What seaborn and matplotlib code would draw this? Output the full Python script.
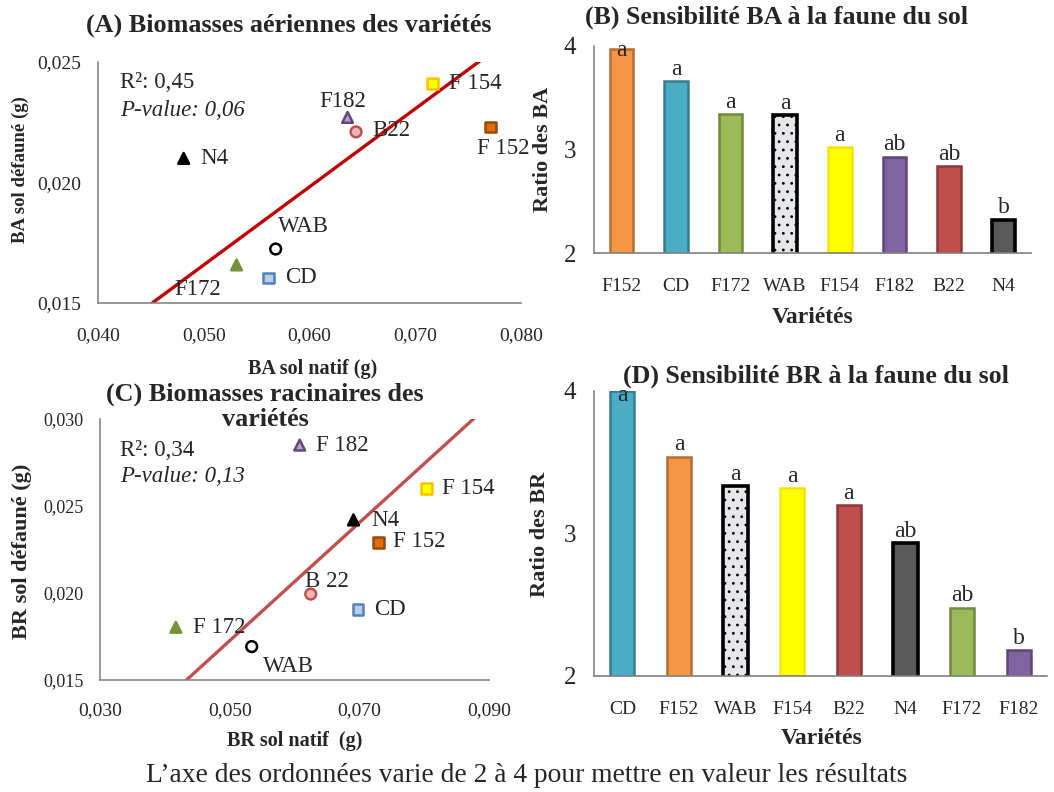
import numpy as np
import pandas as pd
import matplotlib
matplotlib.use("Agg")
import matplotlib.pyplot as plt
from matplotlib.ticker import FuncFormatter
import seaborn as sns

# données
varietes = ["F154", "F152", "F182", "B22", "N4", "WAB", "F172", "CD"]
ba_natif = [0.0716, 0.0771, 0.0636, 0.0644, 0.0481, 0.0568, 0.0531, 0.0561]
ba_defaune = [0.0241, 0.0223, 0.0227, 0.0221, 0.0210, 0.01724, 0.01658, 0.01604]
br_natif = [0.0804, 0.0729, 0.0608, 0.0625, 0.0691, 0.0534, 0.0417, 0.0698]
br_defaune = [0.0260, 0.02291, 0.0285, 0.01994, 0.0242, 0.01692, 0.01803, 0.01906]
labels_A = ["F 154", "F 152", "F182", "B22", "N4", "WAB", "F172", "CD"]
labels_C = ["F 154", "F 152", "F 182", "B 22", "N4", "WAB", "F 172", "CD"]

ordre_B = ["F152", "CD", "F172", "WAB", "F154", "F182", "B22", "N4"]
ratio_BA = [3.975, 3.66, 3.34, 3.33, 3.02, 2.93, 2.84, 2.32]
lettres_B = ["a", "a", "a", "a", "a", "ab", "ab", "b"]
ordre_D = ["CD", "F152", "WAB", "F154", "B22", "N4", "F172", "F182"]
ratio_BR = [4.0, 3.54, 3.33, 3.32, 3.20, 2.93, 2.48, 2.18]
lettres_D = ["a", "a", "a", "a", "a", "ab", "ab", "b"]

# couleurs
bar_fill = {"F152": "#F79646", "CD": "#4BACC6", "F172": "#9BBB59", "WAB": "#E6E7EA",
            "F154": "#FFFF00", "F182": "#8064A2", "B22": "#C0504D", "N4": "#595959"}
bar_edge = {"F152": "#B66D31", "CD": "#357D91", "F172": "#71893F", "WAB": "#000000",
            "F154": "#F2E600", "F182": "#5C4776", "B22": "#8C3836", "N4": "#000000"}
pt_fill = {"F154": "#FFFF00", "F152": "#E46C0A", "F182": "#B3A2C7", "B22": "#E6B9B8",
           "N4": "#000000", "WAB": "#FFFFFF", "F172": "#77933C", "CD": "#B9CDE5"}
pt_edge = {"F154": "#FFC000", "F152": "#984807", "F182": "#604A7B", "B22": "#C0504D",
           "N4": "#000000", "WAB": "#000000", "F172": "#77933C", "CD": "#4F81BD"}
pt_marker = {"F154": "s", "F152": "s", "F182": "^", "B22": "o",
             "N4": "^", "WAB": "o", "F172": "^", "CD": "s"}

sns.set_style("white")
plt.rcParams["font.family"] = ["Liberation Serif", "DejaVu Serif"]
plt.rcParams["hatch.color"] = "#C4C4C8"
plt.rcParams["hatch.linewidth"] = 0.8
GRIS = "#868686"

W, H = 1054, 792
fig = plt.figure(figsize=(W / 100, H / 100), dpi=100)


def box(l, t, r, b):
    return [l / W, 1 - b / H, (r - l) / W, (b - t) / H]


def ftext(x, y, s, **kw):
    fig.text(x / W, 1 - y / H, s, ha="center", va="center", **kw)


def style_axes(ax):
    sns.despine(ax=ax)
    for sp in ["left", "bottom"]:
        ax.spines[sp].set_color(GRIS)
        ax.spines[sp].set_linewidth(1.2)
    ax.tick_params(color=GRIS, length=5, width=1.2, direction="out")


virg = FuncFormatter(lambda v, p: f"{v:.3f}".replace(".", ","))


def nuage(ax, x, y, labels, offsets, line_color, xt, yt, xs, ys, xpad):
    df = pd.DataFrame({"var": varietes, "x": x, "y": y})
    sns.scatterplot(data=df, x="x", y="y", hue="var", style="var", palette=pt_fill,
                    markers=pt_marker, s=60, linewidth=1.8, legend=False, ax=ax, zorder=3)
    ax.collections[0].set_edgecolors([pt_edge[v] for v in varietes])
    # droite d'ajustement (axe majeur réduit)
    xa, ya = np.array(x), np.array(y)
    pente = ya.std() / xa.std()
    xx = np.array([xt[0], xt[-1]])
    ax.plot(xx, ya.mean() + pente * (xx - xa.mean()), color=line_color, lw=2.4, zorder=2)
    for xi, yi, lab, (dx, dy) in zip(x, y, labels, offsets):
        ax.annotate(lab, (xi, yi), xytext=(dx * 0.72, dy * 0.72), textcoords="offset points",
                    ha="left", va="center", fontsize=16.5, annotation_clip=False)
    ax.set_xlim(xt[0], xt[-1])
    ax.set_ylim(yt[0], yt[-1])
    ax.set_xticks(xt)
    ax.set_yticks(yt)
    ax.xaxis.set_major_formatter(virg)
    ax.yaxis.set_major_formatter(virg)
    ax.set_xlabel("")
    ax.set_ylabel("")
    style_axes(ax)
    ax.tick_params(axis="x", labelsize=xs, pad=xpad)
    ax.tick_params(axis="y", labelsize=ys, pad=7)


def barres(ax, ordre, vals, lettres, tick_size):
    df = pd.DataFrame({"var": ordre, "val": vals})
    sns.barplot(data=df, x="var", y="val", hue="var", order=ordre, palette=bar_fill,
                width=0.43, legend=False, ax=ax, saturation=1)
    for p in ax.patches:
        i = int(round(p.get_x() + p.get_width() / 2))
        v = ordre[i]
        p.set_edgecolor(bar_edge[v])
        p.set_linewidth(2.6 if v in ("WAB", "N4") else 1.8)
        if v == "WAB":
            p.set_hatch("..")
    for i, (v, l) in enumerate(zip(vals, lettres)):
        if v > 3.9:
            ax.annotate(l, (i, 4), xytext=(0, -3), textcoords="offset points",
                        ha="center", va="center", fontsize=17)
        else:
            ax.annotate(l, (i, v), xytext=(0, 1), textcoords="offset points",
                        ha="center", va="bottom", fontsize=17)
    ax.set_ylim(2, 4)
    ax.set_xlim(-0.5, len(ordre) - 0.5)
    ax.set_yticks([2, 3, 4])
    ax.set_xticks(np.arange(-0.5, len(ordre), 1), minor=True)
    ax.set_xlabel("")
    ax.set_ylabel("")
    style_axes(ax)
    ax.spines["bottom"].set_color("#7F7F7F")
    ax.tick_params(axis="x", which="major", length=0, labelsize=tick_size, pad=18)
    ax.tick_params(axis="x", which="minor", length=6, width=1.2, color="#7F7F7F", direction="out")
    ax.tick_params(axis="y", labelsize=18, direction="inout", length=8, pad=9)


# (A)
axA = fig.add_axes(box(98, 62, 521, 303))
nuage(axA, ba_natif, ba_defaune, labels_A,
      [(17, 0), (-13, -21), (-28, 16), (16, 1), (17, 0), (2, 23), (-62, -25), (17, 0)],
      "#C00000", [0.040, 0.050, 0.060, 0.070, 0.080], [0.015, 0.020, 0.025], 14, 14, 12)
ftext(289, 25, "(A) Biomasses aériennes des variétés", fontsize=18.8, fontweight="bold")
axA.text(0.052, 0.917, "R²: 0,45", transform=axA.transAxes, fontsize=16.5, va="center")
axA.text(0.052, 0.80, "P-value: 0,06", transform=axA.transAxes, fontsize=16.5, va="center",
         style="italic")
ftext(313, 369, "BA sol natif (g)", fontsize=14.5, fontweight="bold")
ftext(20, 170, "BA sol défauné (g)", fontsize=13.5, fontweight="bold", rotation=90)

# (C)
axC = fig.add_axes(box(100, 419, 489, 680))
nuage(axC, br_natif, br_defaune, labels_C,
      [(15, 0), (15, 1), (16, 0), (-6, 13), (18, -1), (11, -20), (17, 0), (16, 0)],
      "#C0504D", [0.030, 0.050, 0.070, 0.090], [0.015, 0.020, 0.025, 0.030], 14, 13, 11)
ftext(265, 407, "(C) Biomasses racinaires des\nvariétés", fontsize=18.8, fontweight="bold",
      linespacing=1.1)
axC.text(0.051, 0.881, "R²: 0,34", transform=axC.transAxes, fontsize=16.5, va="center")
axC.text(0.051, 0.779, "P-value: 0,13", transform=axC.transAxes, fontsize=16.5, va="center",
         style="italic")
ftext(295, 741, "BR sol natif  (g)", fontsize=14.5, fontweight="bold")
ftext(22, 551, "BR sol défauné (g)", fontsize=16, fontweight="bold", rotation=90)

# (B)
axB = fig.add_axes(box(594, 46, 1031, 253))
barres(axB, ordre_B, ratio_BA, lettres_B, 14)
ftext(777, 17, "(B) Sensibilité BA à la faune du sol", fontsize=18.6, fontweight="bold")
ftext(543, 149, "Ratio des BA", fontsize=16, fontweight="bold", rotation=90)
ftext(813, 317, "Variétés", fontsize=17, fontweight="bold")

# (D)
axD = fig.add_axes(box(594, 391, 1047, 676))
barres(axD, ordre_D, ratio_BR, lettres_D, 14)
ftext(816, 376, "(D) Sensibilité BR à la faune du sol", fontsize=18.6, fontweight="bold")
ftext(540, 534, "Ratio des BR", fontsize=16, fontweight="bold", rotation=90)
ftext(822, 738, "Variétés", fontsize=17, fontweight="bold")

ftext(527, 775, "L’axe des ordonnées varie de 2 à 4 pour mettre en valeur les résultats",
      fontsize=19.8)

fig.savefig("out.png", dpi=100)
